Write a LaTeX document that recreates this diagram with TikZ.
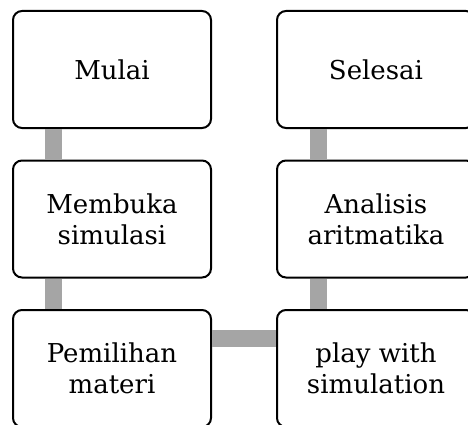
\documentclass[tikz,border=0pt]{standalone}
\usepackage{fontspec}
\setmainfont{DejaVu Serif}
\usepackage{tikz}
\usetikzlibrary{arrows.meta}
\definecolor{linkgray}{HTML}{A5A5A5}

\begin{document}
\begin{tikzpicture}[x=1pt,y=-1pt,
	stepbox/.style={draw,line width=2pt,rounded corners=9pt,minimum width=198pt,minimum height=117pt,align=center,font=\fontsize{26}{31}\selectfont},
	link/.style={-,linkgray,line width=17pt}]

\clip (0,0) rectangle (468,425);

\node (mulai)		at (112,69.5)	[stepbox] {Mulai};
\node (membuka)		at (112,219)	[stepbox] {Membuka\\simulasi};
\node (pemilihan)	at (112,368.5)	[stepbox] {Pemilihan\\materi};
\node (play)		at (376,368.5)	[stepbox] {play with\\simulation};
\node (analisis)	at (376,219)	[stepbox] {Analisis\\aritmatika};
\node (selesai)		at (376,69.5)	[stepbox] {Selesai};

\draw [link] ([xshift=41pt]mulai.south west) to ([xshift=41pt]membuka.north west);
\draw [link] ([xshift=41pt]membuka.south west) to ([xshift=41pt]pemilihan.north west);
\draw [link] ([yshift=-29pt]pemilihan.north east) to ([yshift=-29pt]play.north west);
\draw [link] ([xshift=42pt]play.north west) to ([xshift=42pt]analisis.south west);
\draw [link] ([xshift=42pt]analisis.north west) to ([xshift=42pt]selesai.south west);

\end{tikzpicture}
\end{document}
